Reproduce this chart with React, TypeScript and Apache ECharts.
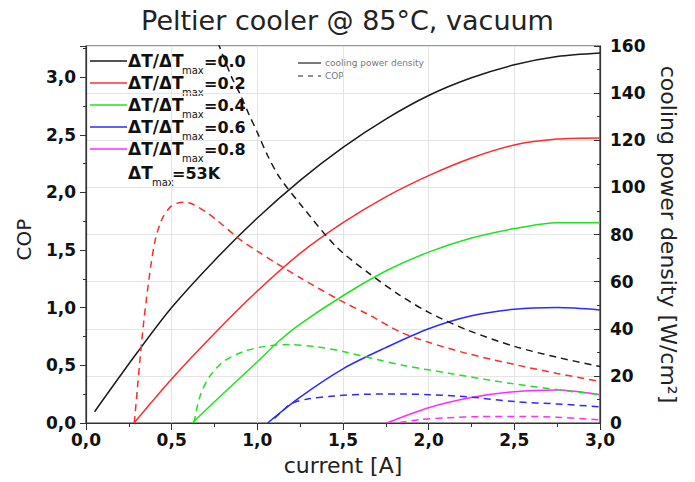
import React, { useEffect, useRef } from 'react';
import * as echarts from 'echarts';

// ΔT/ΔTmax ratios and colours
const ratioLabels = ['0.0', '0.2', '0.4', '0.6', '0.8'];
const colors = ['#1a1a1a', '#ff2b2b', '#22e022', '#2b2bff', '#ff2bff'];

// x-axis ticks (current [A])
const xTicks = [0, 0.5, 1.0, 1.5, 2.0, 2.5, 3.0];

// cooling power density [W/cm²] vs current [A]
const cpd00 = [[0.05, 4.8], [0.3, 30], [0.5, 49], [0.75, 69], [1.0, 87], [1.25, 103], [1.5, 117], [1.75, 129], [2.0, 139], [2.25, 146.5], [2.5, 152], [2.75, 155.5], [3.0, 157]];
const cpd02 = [[0.28, 0], [0.5, 18.7], [0.75, 38], [1.0, 56], [1.25, 72], [1.5, 85], [1.75, 96], [2.0, 105], [2.25, 112.5], [2.5, 118], [2.75, 120.5], [3.0, 121]];
const cpd04 = [[0.62, 0], [0.75, 9], [1.0, 26], [1.13, 35], [1.25, 42], [1.5, 54], [1.75, 64.5], [2.0, 72.5], [2.25, 78.5], [2.5, 82.5], [2.75, 85], [3.0, 85]];
const cpd06 = [[1.06, 0], [1.25, 11], [1.5, 23], [1.75, 32], [2.0, 40], [2.25, 45.5], [2.5, 48.3], [2.75, 49], [3.0, 48]];
const cpd08 = [[1.755, 0], [2.0, 6.5], [2.25, 10.8], [2.5, 13.3], [2.75, 14], [3.0, 12]];

// COP vs current [A]
const cop00 = [[0.77, 3.3], [0.85, 3.0], [0.9, 2.85], [0.95, 2.68], [1.0, 2.52], [1.06, 2.32], [1.13, 2.13], [1.25, 1.9], [1.46, 1.53], [1.65, 1.3], [1.83, 1.11], [2.0, 0.96], [2.22, 0.81], [2.5, 0.665], [2.75, 0.57], [3.0, 0.49]];
const cop02 = [[0.282, 0], [0.3, 0.3], [0.315, 0.55], [0.335, 0.85], [0.354, 1.09], [0.38, 1.38], [0.403, 1.58], [0.43, 1.72], [0.451, 1.79], [0.49, 1.87], [0.53, 1.905], [0.57, 1.915], [0.62, 1.9], [0.7, 1.83], [0.763, 1.76], [0.9, 1.59], [1.0, 1.49], [1.113, 1.384], [1.25, 1.26], [1.5, 1.05], [1.65, 0.94], [1.833, 0.79], [2.0, 0.7], [2.222, 0.604], [2.514, 0.503], [2.75, 0.43], [3.0, 0.36]];
const cop04 = [[0.63, 0], [0.665, 0.23], [0.72, 0.4], [0.8, 0.53], [0.92, 0.62], [1.05, 0.665], [1.19, 0.68], [1.35, 0.66], [1.5, 0.62], [1.7, 0.55], [1.87, 0.494], [2.125, 0.43], [2.475, 0.344], [2.767, 0.286], [3.0, 0.245]];
const cop06 = [[1.1, 0.04], [1.15, 0.11], [1.2, 0.17], [1.3, 0.21], [1.45, 0.235], [1.65, 0.25], [1.87, 0.251], [2.0, 0.245], [2.22, 0.228], [2.51, 0.185], [2.75, 0.165], [3.0, 0.141]];
const cop08 = [[1.83, 0.005], [1.95, 0.03], [2.1, 0.045], [2.3, 0.055], [2.55, 0.057], [2.75, 0.05], [3.0, 0.028]];

const cpdSeries = [cpd00, cpd02, cpd04, cpd06, cpd08];
const copSeries = [cop00, cop02, cop04, cop06, cop08];

const FONT = 'DejaVu Sans';

export default function App() {
  const ref = useRef<HTMLDivElement>(null);
  useEffect(() => {
    if (!ref.current) return;
    const chart = echarts.init(ref.current, null, { renderer: 'svg' });

    const series: any[] = [];
    cpdSeries.forEach((d, i) => {
      series.push({
        type: 'line', yAxisIndex: 1, data: d, showSymbol: false, smooth: 0.3,
        lineStyle: { color: colors[i], width: 1.5 }, z: 3,
      });
    });
    copSeries.forEach((d, i) => {
      series.push({
        type: 'line', yAxisIndex: 0, data: d, showSymbol: false, smooth: 0.3,
        lineStyle: { color: colors[i], width: 1.5, type: [7, 5] }, z: 3,
      });
    });

    const mainStyle = { fontSize: 17, fontWeight: 'bold', fontFamily: FONT, fill: '#111', verticalAlign: 'middle' };
    const valStyle = { fontSize: 16, fontWeight: 'bold', fontFamily: FONT, fill: '#111', verticalAlign: 'middle' };
    const subStyle = { fontSize: 10, fontFamily: FONT, fill: '#111', verticalAlign: 'middle' };

    const legendRows: any[] = [];
    const rowY = [61, 83, 105, 127, 149];
    ratioLabels.forEach((r, i) => {
      const y = rowY[i];
      legendRows.push({
        type: 'line', shape: { x1: 90, y1: y, x2: 127, y2: y },
        style: { stroke: colors[i], lineWidth: 1.5 },
      });
      legendRows.push({ type: 'text', x: 128, y, style: { ...mainStyle, text: 'ΔT/ΔT' } });
      legendRows.push({ type: 'text', x: 182, y: y + 9, style: { ...subStyle, text: 'max' } });
      legendRows.push({ type: 'text', x: 204, y, style: { ...valStyle, text: '=' + r } });
    });
    legendRows.push({ type: 'text', x: 128, y: 173, style: { ...mainStyle, text: 'ΔT' } });
    legendRows.push({ type: 'text', x: 152, y: 182, style: { ...subStyle, text: 'max' } });
    legendRows.push({ type: 'text', x: 172, y: 173, style: { ...valStyle, text: '=53K' } });
    // second legend
    legendRows.push({ type: 'line', shape: { x1: 298, y1: 63, x2: 321, y2: 63 }, style: { stroke: '#222', lineWidth: 1.2 } });
    legendRows.push({ type: 'text', x: 325, y: 63, style: { text: 'cooling power density', fontSize: 9, fontFamily: FONT, fill: '#777', verticalAlign: 'middle' } });
    legendRows.push({ type: 'line', shape: { x1: 298, y1: 76, x2: 321, y2: 76 }, style: { stroke: '#222', lineWidth: 1.2, lineDash: [5, 5] } });
    legendRows.push({ type: 'text', x: 325, y: 76, style: { text: 'COP', fontSize: 9, fontFamily: FONT, fill: '#777', verticalAlign: 'middle' } });

    const tickLabel = { fontSize: 17, fontWeight: 'bold', fontFamily: FONT, color: '#111' };

    chart.setOption({
      animation: false,
      backgroundColor: '#fff',
      title: {
        text: 'Peltier cooler @ 85°C, vacuum', left: 'center', top: 2,
        textStyle: { fontSize: 27, fontWeight: 'normal', fontFamily: FONT, color: '#222' },
      },
      grid: { left: 86, right: 95, top: 46, bottom: 59, show: true, borderColor: '#333', borderWidth: 1.2, backgroundColor: 'transparent' },
      xAxis: {
        type: 'value', min: xTicks[0], max: xTicks[xTicks.length - 1], interval: 0.5,
        name: 'current [A]', nameLocation: 'middle', nameGap: 31,
        nameTextStyle: { fontSize: 22, fontFamily: FONT, color: '#222' },
        axisLine: { lineStyle: { color: '#333', width: 1.2 } },
        axisTick: { length: 7, lineStyle: { color: '#333' } },
        minorTick: { show: true, splitNumber: 2, length: 4, lineStyle: { color: '#333' } },
        axisLabel: { ...tickLabel, margin: 8, formatter: (v: number) => v.toFixed(1).replace('.', ',') },
        splitLine: { show: true, lineStyle: { color: '#e4e4e4', width: 1 } },
      },
      yAxis: [
        {
          type: 'value', min: 0, max: 3.27, interval: 0.5, position: 'left',
          name: 'COP', nameLocation: 'middle', nameGap: 52,
          nameTextStyle: { fontSize: 20, fontFamily: FONT, color: '#222', padding: [0, 10, 0, 0] },
          axisLine: { show: true, lineStyle: { color: '#333', width: 1.2 } },
          axisTick: { length: 6, lineStyle: { color: '#333' } },
          minorTick: { show: true, splitNumber: 2, length: 3, lineStyle: { color: '#333' } },
          axisLabel: {
            ...tickLabel, margin: 10,
            formatter: (v: number) => (Math.abs(v * 2 - Math.round(v * 2)) < 1e-6 ? v.toFixed(1).replace('.', ',') : ''),
          },
          splitLine: { show: false },
        },
        {
          type: 'value', min: 0, max: 160, interval: 20, position: 'right',
          name: 'cooling power density [W/cm²]', nameLocation: 'middle', nameGap: 57, nameRotate: -90,
          nameTextStyle: { fontSize: 22, fontFamily: FONT, color: '#222' },
          axisLine: { show: true, lineStyle: { color: '#333', width: 1.2 } },
          axisTick: { inside: true, length: 6, lineStyle: { color: '#333' } },
          minorTick: { show: true, splitNumber: 2, length: 3, lineStyle: { color: '#333' } },
          axisLabel: { ...tickLabel, margin: 10 },
          splitLine: { show: true, lineStyle: { color: '#e4e4e4', width: 1 } },
        },
      ],
      graphic: legendRows,
      series,
    });
    return () => chart.dispose();
  }, []);
  return <div ref={ref} style={{ position: 'fixed', left: 0, top: 0, width: 695, height: 482 }} />;
}
